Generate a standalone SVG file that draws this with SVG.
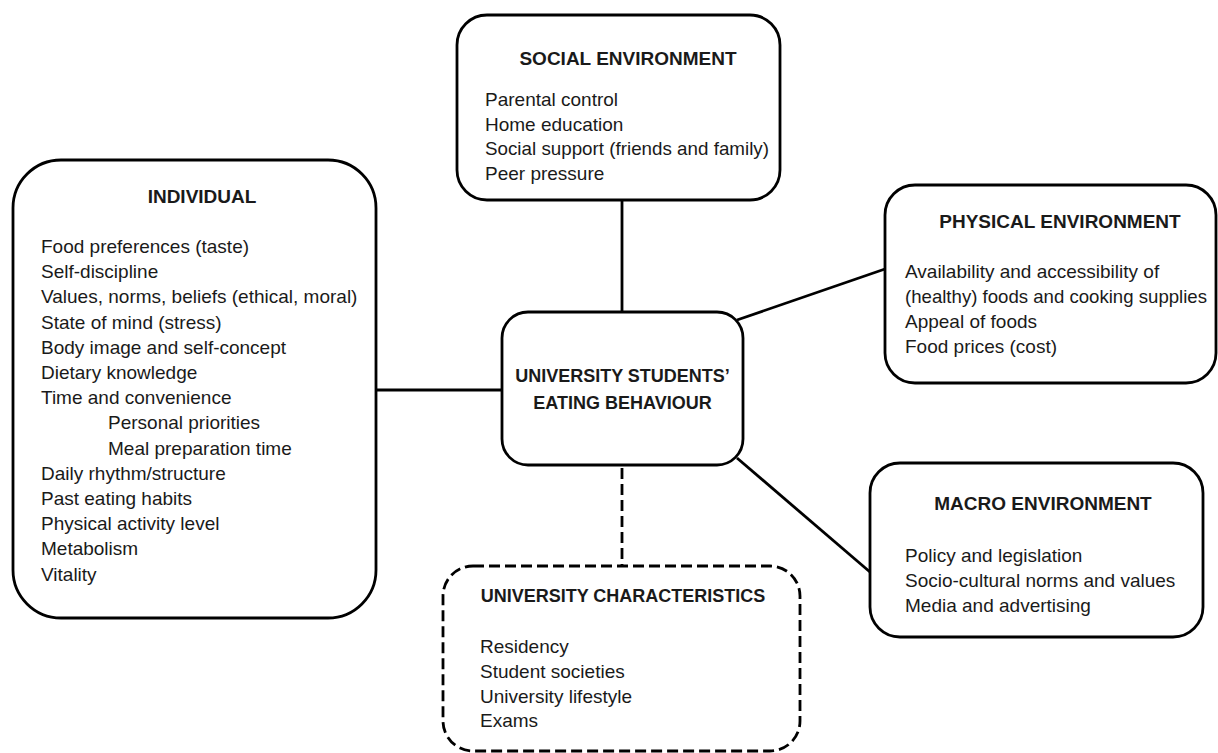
<svg xmlns="http://www.w3.org/2000/svg" width="1218" height="753" viewBox="0 0 1218 753">
<style>
.box{fill:#fff;stroke:#000;stroke-width:2.8}
.dash{stroke-dasharray:11 5}
.t{font-family:"Liberation Sans",Arial,sans-serif;font-size:19px;font-weight:bold;fill:#1a1a1a;text-anchor:middle}
.b{font-family:"Liberation Sans",Arial,sans-serif;font-size:19px;fill:#1a1a1a}
.c{stroke:#000;stroke-width:2.8;fill:none}
</style>
<rect width="1218" height="753" fill="#fff"/>
<g id="connectors">
<line class="c" x1="622" y1="200" x2="622" y2="312"/>
<line class="c" x1="376" y1="390" x2="502" y2="390"/>
<line class="c" x1="737" y1="320" x2="885" y2="269"/>
<line class="c" x1="737" y1="458" x2="870" y2="572"/>
<line class="c dash" x1="622" y1="468" x2="622" y2="566"/>
</g>
<g id="individual">
<rect class="box" x="13" y="160" width="363" height="458" rx="48" ry="48"/>
<text class="t" x="202" y="203">INDIVIDUAL</text>
<text class="b" x="41" y="253">Food preferences (taste)</text>
<text class="b" x="41" y="278.2">Self-discipline</text>
<text class="b" x="41" y="303.4">Values, norms, beliefs (ethical, moral)</text>
<text class="b" x="41" y="328.6">State of mind (stress)</text>
<text class="b" x="41" y="353.8">Body image and self-concept</text>
<text class="b" x="41" y="379">Dietary knowledge</text>
<text class="b" x="41" y="404.2">Time and convenience</text>
<text class="b" x="108" y="429.4">Personal priorities</text>
<text class="b" x="108" y="454.6">Meal preparation time</text>
<text class="b" x="41" y="479.8">Daily rhythm/structure</text>
<text class="b" x="41" y="505">Past eating habits</text>
<text class="b" x="41" y="530.2">Physical activity level</text>
<text class="b" x="41" y="555.4">Metabolism</text>
<text class="b" x="41" y="580.6">Vitality</text>
</g>
<g id="social">
<rect class="box" x="457" y="15" width="323" height="185" rx="30" ry="30"/>
<text class="t" x="628" y="65">SOCIAL ENVIRONMENT</text>
<text class="b" x="485" y="106">Parental control</text>
<text class="b" x="485" y="130.5">Home education</text>
<text class="b" x="485" y="155" textLength="284" lengthAdjust="spacingAndGlyphs">Social support (friends and family)</text>
<text class="b" x="485" y="180">Peer pressure</text>
</g>
<g id="physical">
<rect class="box" x="885" y="185" width="331" height="198" rx="30" ry="30"/>
<text class="t" x="1060" y="228">PHYSICAL ENVIRONMENT</text>
<text class="b" x="905" y="278">Availability and accessibility of</text>
<text class="b" x="905" y="303" textLength="302" lengthAdjust="spacingAndGlyphs">(healthy) foods and cooking supplies</text>
<text class="b" x="905" y="328">Appeal of foods</text>
<text class="b" x="905" y="353">Food prices (cost)</text>
</g>
<g id="central">
<rect class="box" x="502" y="312" width="241" height="153" rx="26" ry="26"/>
<text class="t" x="622.5" y="382" style="font-size:18px">UNIVERSITY STUDENTS’</text>
<text class="t" x="622.5" y="409" style="font-size:18px">EATING BEHAVIOUR</text>
</g>
<g id="macro">
<rect class="box" x="870" y="463" width="333" height="174" rx="30" ry="30"/>
<text class="t" x="1043" y="510">MACRO ENVIRONMENT</text>
<text class="b" x="905" y="562">Policy and legislation</text>
<text class="b" x="905" y="587">Socio-cultural norms and values</text>
<text class="b" x="905" y="612">Media and advertising</text>
</g>
<g id="university">
<rect class="box dash" x="443" y="566" width="357" height="185" rx="30" ry="30"/>
<text class="t" x="623" y="602" style="font-size:18px">UNIVERSITY  CHARACTERISTICS</text>
<text class="b" x="480" y="653">Residency</text>
<text class="b" x="480" y="678">Student societies</text>
<text class="b" x="480" y="703">University lifestyle</text>
<text class="b" x="480" y="727">Exams</text>
</g>
</svg>
